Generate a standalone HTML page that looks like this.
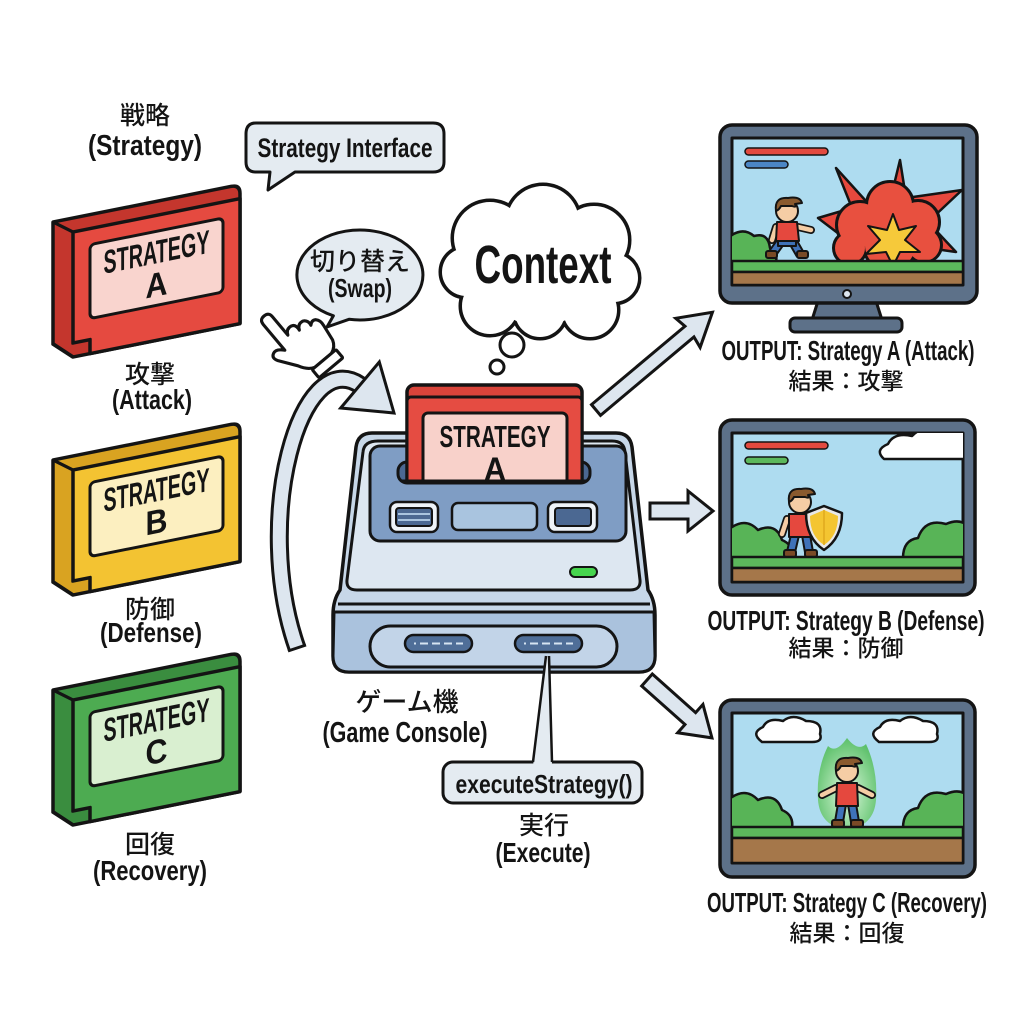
<!DOCTYPE html>
<html><head><meta charset="utf-8"><style>
html,body{margin:0;padding:0;background:#fff;}
svg{display:block;}
text{font-family:"Liberation Sans","Noto Sans CJK JP",sans-serif;fill:#141414;}
.b{font-weight:bold;}
.j{font-weight:500;}
</style></head><body>
<svg width="1024" height="1024" viewBox="0 0 1024 1024" xmlns="http://www.w3.org/2000/svg">
<defs>
<clipPath id="s1"><rect x="732" y="138" width="231" height="147"/></clipPath>
<clipPath id="s2"><rect x="732" y="433" width="231" height="149"/></clipPath>
<clipPath id="s3"><rect x="732" y="713" width="231" height="150"/></clipPath>
<clipPath id="cc"><rect x="380" y="370" width="230" height="111"/></clipPath>
<radialGradient id="aura" cx="0.5" cy="0.6" r="0.6">
<stop offset="0" stop-color="#e9f8ea"/><stop offset="0.5" stop-color="#9bdca2"/><stop offset="1" stop-color="#5cc06a"/>
</radialGradient>
</defs>
<rect width="1024" height="1024" fill="#fff"/>

<!-- Left labels -->
<text x="145" y="124" text-anchor="middle" class="j" font-size="25">戦略</text>
<text x="145" y="155" text-anchor="middle" class="b" font-size="29" textLength="114" lengthAdjust="spacingAndGlyphs">(Strategy)</text>

<!-- Cartridge A -->
<g transform="translate(73,232) skewY(-11.3)" stroke="#141414" stroke-linejoin="round">
 <path d="M-20 -14 L158 -14 Q167 -14 167 -5 L167 125 L0 125 L-20 108 Z" fill="#c4362d" stroke-width="3.5"/>
 <path d="M-20 -14 L0 0" fill="none" stroke-width="3"/>
 <path d="M0 0 L167 0 L167 125 L17 125 L17 111 L0 111 Z" fill="#e54a40" stroke-width="3.5"/>
 <rect x="17" y="16" width="133" height="74" rx="5" fill="#f9d4ce" stroke-width="3"/>
 <text x="83.5" y="48" text-anchor="middle" class="b" font-size="33" stroke="none" textLength="106" lengthAdjust="spacingAndGlyphs">STRATEGY</text>
 <text x="83.5" y="81" text-anchor="middle" class="b" font-size="34" stroke="none" textLength="22" lengthAdjust="spacingAndGlyphs">A</text>
</g>
<text x="150" y="383" text-anchor="middle" class="j" font-size="25">攻撃</text>
<text x="152" y="409" text-anchor="middle" class="b" font-size="28" textLength="80" lengthAdjust="spacingAndGlyphs">(Attack)</text>

<!-- Cartridge B -->
<g transform="translate(73,470) skewY(-11.3)" stroke="#141414" stroke-linejoin="round">
 <path d="M-20 -14 L158 -14 Q167 -14 167 -5 L167 125 L0 125 L-20 108 Z" fill="#d9a321" stroke-width="3.5"/>
 <path d="M-20 -14 L0 0" fill="none" stroke-width="3"/>
 <path d="M0 0 L167 0 L167 125 L17 125 L17 111 L0 111 Z" fill="#f3c332" stroke-width="3.5"/>
 <rect x="17" y="16" width="133" height="74" rx="5" fill="#fcefc0" stroke-width="3"/>
 <text x="83.5" y="48" text-anchor="middle" class="b" font-size="33" stroke="none" textLength="106" lengthAdjust="spacingAndGlyphs">STRATEGY</text>
 <text x="83.5" y="80" text-anchor="middle" class="b" font-size="34" stroke="none" textLength="22" lengthAdjust="spacingAndGlyphs">B</text>
</g>
<text x="150" y="618" text-anchor="middle" class="j" font-size="25">防御</text>
<text x="151" y="642" text-anchor="middle" class="b" font-size="28" textLength="102" lengthAdjust="spacingAndGlyphs">(Defense)</text>

<!-- Cartridge C -->
<g transform="translate(73,700) skewY(-11.3)" stroke="#141414" stroke-linejoin="round">
 <path d="M-20 -14 L158 -14 Q167 -14 167 -5 L167 125 L0 125 L-20 108 Z" fill="#3a8d3f" stroke-width="3.5"/>
 <path d="M-20 -14 L0 0" fill="none" stroke-width="3"/>
 <path d="M0 0 L167 0 L167 125 L17 125 L17 111 L0 111 Z" fill="#4dab51" stroke-width="3.5"/>
 <rect x="17" y="16" width="133" height="74" rx="5" fill="#d9efd0" stroke-width="3"/>
 <text x="83.5" y="48" text-anchor="middle" class="b" font-size="33" stroke="none" textLength="106" lengthAdjust="spacingAndGlyphs">STRATEGY</text>
 <text x="83.5" y="80" text-anchor="middle" class="b" font-size="34" stroke="none" textLength="22" lengthAdjust="spacingAndGlyphs">C</text>
</g>
<text x="150" y="853" text-anchor="middle" class="j" font-size="25">回復</text>
<text x="150" y="880" text-anchor="middle" class="b" font-size="28" textLength="114" lengthAdjust="spacingAndGlyphs">(Recovery)</text>

<!-- Strategy Interface bubble -->
<path d="M256 123 L433 123 Q444 123 444 134 L444 162 Q444 172 433 172 L295 172 L268 190 L270 172 L256 172 Q246 172 246 162 L246 134 Q246 123 256 123 Z" fill="#e4ebf1" stroke="#141414" stroke-width="3" stroke-linejoin="round"/>
<text x="345" y="157" text-anchor="middle" class="b" font-size="27" textLength="175" lengthAdjust="spacingAndGlyphs">Strategy Interface</text>

<!-- Swap bubble -->
<path d="M349 319.3 A63 45 0 1 0 333.4 315.8 L327 327 Z" fill="#e4ebf1" stroke="#141414" stroke-width="3" stroke-linejoin="round"/>
<text x="360" y="270" text-anchor="middle" class="j" font-size="25">切り替え</text>
<text x="360" y="297" text-anchor="middle" class="b" font-size="26" textLength="64" lengthAdjust="spacingAndGlyphs">(Swap)</text>

<!-- Curved arrow -->
<path d="M297 648 C252 520 300 345 360 385" fill="none" stroke="#141414" stroke-width="19"/>
<path d="M297 648 C252 520 300 345 360 385" fill="none" stroke="#dde6ef" stroke-width="13"/>
<path d="M288 651 L306 645" stroke="#141414" stroke-width="3"/>
<polygon points="340.7,408 379.3,362 394,413" fill="#dde6ef" stroke="#141414" stroke-width="3" stroke-linejoin="miter"/>

<!-- Hand -->
<g transform="translate(264,316) rotate(-40) scale(1.2)" stroke="#141414" stroke-width="2.6" stroke-linejoin="round" fill="#fff">
 <path d="M-5 5 Q-5 0 0 0 Q5 0 5 5 L5 25 Q7 20 12 21 Q16 22 15 28 Q17 23 22 24 Q26 26 25 31 Q28 28 31 30 Q34 33 33 38 L31 52 Q29 58 23 60 L5 60 Q-1 58 -5 50 L-15 36 Q-18 31 -14 29 Q-10 27 -5 33 Z"/>
 <rect x="2" y="60" width="26" height="9" rx="1"/>
</g>

<!-- Context cloud -->
<g stroke="#141414" stroke-width="7" fill="#141414">
 <circle cx="490" cy="238" r="36"/><circle cx="543" cy="222" r="36"/><circle cx="594" cy="240" r="34"/>
 <circle cx="614" cy="278" r="24"/><circle cx="590" cy="310" r="27"/><circle cx="540" cy="312" r="25"/>
 <circle cx="490" cy="306" r="28"/><circle cx="466" cy="272" r="24"/>
</g>
<g fill="#fff">
 <circle cx="490" cy="238" r="36"/><circle cx="543" cy="222" r="36"/><circle cx="594" cy="240" r="34"/>
 <circle cx="614" cy="278" r="24"/><circle cx="590" cy="310" r="27"/><circle cx="540" cy="312" r="25"/>
 <circle cx="490" cy="306" r="28"/><circle cx="466" cy="272" r="24"/><circle cx="540" cy="268" r="58"/>
</g>
<text x="543" y="283" text-anchor="middle" class="b" font-size="54" textLength="137" lengthAdjust="spacingAndGlyphs">Context</text>
<circle cx="512" cy="345" r="12" fill="#fff" stroke="#141414" stroke-width="3"/>
<circle cx="497" cy="367" r="7" fill="#fff" stroke="#141414" stroke-width="3"/>

<!-- Console -->
<g stroke="#141414" stroke-linejoin="round">
 <path d="M372 433 L616 433 Q630 433 632 447 L648 590 Q655 600 655 615 L655 656 Q655 672 639 672 L349 672 Q333 672 333 656 L333 615 Q333 600 340 590 L356 447 Q358 433 372 433 Z" fill="#c7d7e8" stroke-width="3.5"/>
 <path d="M378 441 L612 441 Q624 441 625 452 L640 580 Q641 590 630 590 L357 590 Q346 590 347 580 L363 452 Q364 441 378 441 Z" fill="#dde7f1" stroke-width="3"/>
 <path d="M338 604 L650 604" fill="none" stroke-width="3"/>
 <path d="M334 612 L654 612 L655 656 Q655 672 639 672 L349 672 Q333 672 333 656 Z" fill="#aac2dd" stroke-width="3"/>
 <rect x="370" y="626" width="247" height="41" rx="20.5" fill="#c2d4e8" stroke-width="3"/>
 <rect x="405" y="635" width="67" height="17" rx="8.5" fill="#4f6e98" stroke-width="2.5"/>
 <rect x="515" y="635" width="67" height="17" rx="8.5" fill="#4f6e98" stroke-width="2.5"/>
 <rect x="370" y="446" width="256" height="95" rx="10" fill="#7f9dc4" stroke-width="3"/>
 <rect x="398" y="462" width="192" height="21" rx="9" fill="#4b6892" stroke-width="3"/>
 <rect x="390" y="502" width="48" height="30" rx="7" fill="#eef3f8" stroke-width="2.5"/>
 <rect x="396" y="508" width="36" height="18" rx="3" fill="#4b6892" stroke-width="2"/>
 <rect x="452" y="503" width="85" height="27" rx="6" fill="#a9c4df" stroke-width="2.5"/>
 <rect x="548" y="502" width="49" height="30" rx="7" fill="#eef3f8" stroke-width="2.5"/>
 <rect x="555" y="508" width="36" height="18" rx="3" fill="#4b6892" stroke-width="2"/>
 <rect x="570" y="567" width="27" height="10" rx="5" fill="#46d54e" stroke-width="2"/>
</g>
<path d="M398 514 L430 514 M398 520 L430 520" stroke="#a9c4df" stroke-width="2"/>
<path d="M414 643.5 L463 643.5 M524 643.5 L573 643.5" stroke="#d6e4f2" stroke-width="2" stroke-dasharray="2 4 8 4 8 4 8 4 8 4 2"/>
<g clip-path="url(#cc)" stroke="#141414" stroke-linejoin="round">
 <rect x="407" y="385" width="175" height="110" rx="7" fill="#d8443a" stroke-width="3.5"/>
 <rect x="407" y="397" width="175" height="100" rx="4" fill="#e54c42" stroke-width="3"/>
 <rect x="423" y="413" width="144" height="90" rx="5" fill="#f8d1ca" stroke-width="3"/>
 <text x="495" y="447" text-anchor="middle" class="b" font-size="31" stroke="none" textLength="111" lengthAdjust="spacingAndGlyphs">STRATEGY</text>
 <text x="495" y="480" text-anchor="middle" class="b" font-size="32" stroke="none" textLength="22" lengthAdjust="spacingAndGlyphs">A</text>
</g>
<path d="M402 481 L587 481" stroke="#141414" stroke-width="3"/>

<text x="407" y="711" text-anchor="middle" class="j" font-size="26">ゲーム機</text>
<text x="405" y="742" text-anchor="middle" class="b" font-size="29" textLength="165" lengthAdjust="spacingAndGlyphs">(Game Console)</text>

<!-- executeStrategy -->
<rect x="443" y="762" width="199" height="41" rx="10" fill="#e4ebf1" stroke="#141414" stroke-width="3"/>
<polygon points="546,656 549,656 552,766 533,766" fill="#e4ebf1"/>
<path d="M546 656 L533 762 M549 656 L552 762" stroke="#141414" stroke-width="2.5" fill="none"/>
<text x="544" y="793" text-anchor="middle" class="b" font-size="26" textLength="177" lengthAdjust="spacingAndGlyphs">executeStrategy()</text>
<text x="544" y="834" text-anchor="middle" class="j" font-size="25">実行</text>
<text x="543" y="862" text-anchor="middle" class="b" font-size="28" textLength="95" lengthAdjust="spacingAndGlyphs">(Execute)</text>

<!-- Output arrows -->
<g fill="#dde6ef" stroke="#141414" stroke-width="3" stroke-linejoin="miter">
 <polygon transform="translate(596,410) rotate(-40)" points="0,-7 122,-7 120,-19 152,0 120,19 122,7 0,7"/>
 <polygon transform="translate(650,511)" points="0,-8 38,-8 38,-20 63,0 38,20 38,8 0,8"/>
 <polygon transform="translate(647,680) rotate(41.7)" points="0,-8 58,-8 58,-19 87,0 58,19 58,8 0,8"/>
</g>

<!-- Monitor 1 -->
<g stroke="#141414" stroke-linejoin="round">
 <path d="M818 301 L876 301 L882 320 L812 320 Z" fill="#5d7189" stroke-width="3"/>
 <rect x="790" y="318" width="112" height="14" rx="5" fill="#5d7189" stroke-width="3"/>
 <rect x="720" y="125" width="257" height="178" rx="12" fill="#5d7189" stroke-width="3.5"/>
 <rect x="732" y="138" width="231" height="147" fill="#aedcf0" stroke-width="3"/>
 <circle cx="847" cy="294" r="4" fill="#dde6ef" stroke-width="2"/>
</g>
<g clip-path="url(#s1)" stroke="#141414" stroke-linejoin="round" stroke-width="2.5">
 <rect x="745" y="148" width="83" height="7" rx="3.5" fill="#e24a3f" stroke-width="1.5"/>
 <rect x="745" y="161" width="43" height="7" rx="3.5" fill="#4b86c5" stroke-width="1.5"/>
 <path d="M728 262 L728 238 Q742 226 754 236 Q768 232 770 248 Q778 252 776 262 Z" fill="#58b457"/>
 <polygon points="885,222 900,160 906,198 962,190 928,222 956,252 914,246 885,272 860,250 818,218 852,208 836,168" fill="#e6483d"/>
 <g fill="#e8503f" stroke-width="6"><circle cx="860" cy="225" r="22"/><circle cx="890" cy="205" r="22"/><circle cx="918" cy="222" r="20"/><circle cx="924" cy="245" r="16"/><circle cx="850" cy="248" r="15"/><circle cx="890" cy="245" r="25"/></g>
 <g fill="#e8503f" stroke="none"><circle cx="860" cy="225" r="22"/><circle cx="890" cy="205" r="22"/><circle cx="918" cy="222" r="20"/><circle cx="924" cy="245" r="16"/><circle cx="850" cy="248" r="15"/><circle cx="890" cy="245" r="25"/></g>
 <polygon points="893,214 899,230 916,226 905,240 920,252 900,252 893,266 886,252 866,254 880,240 868,226 887,230" fill="#f6c93a" stroke-width="2"/>
 <path d="M782 240 L772 254 M792 240 L800 254" stroke="#141414" stroke-width="10" stroke-linecap="round"/>
 <path d="M782 240 L772 254 M792 240 L800 254" stroke="#3f72b8" stroke-width="6" stroke-linecap="round"/>
 <rect x="766" y="251" width="11" height="7" rx="2" fill="#7a4a26" stroke-width="2"/>
 <rect x="797" y="251" width="11" height="7" rx="2" fill="#7a4a26" stroke-width="2"/>
 <path d="M778 240 L796 240 L796 246 L778 246 Z" fill="#3f72b8" stroke-width="2"/>
 <path d="M798 227 L811 230 M776 227 L772 240" stroke="#141414" stroke-width="8" stroke-linecap="round"/>
 <path d="M798 227 L811 230 M776 227 L772 240" stroke="#f5cda5" stroke-width="4.5" stroke-linecap="round"/>
 <path d="M777 222 L797 222 L799 241 L776 241 Z" fill="#e5483e" stroke-width="2"/>
 <circle cx="787" cy="211" r="11" fill="#f5cda5" stroke-width="2"/>
 <path d="M776 211 Q774 197 788 198 Q800 196 802 203 L795 204 Q797 208 792 206 L781 206 Q779 210 776 211 Z" fill="#8a5a2e" stroke-width="2"/>
 <rect x="732" y="261" width="231" height="11" fill="#5cb85c" stroke-width="2.5"/>
 <rect x="732" y="272" width="231" height="13" fill="#a5774a" stroke-width="2.5"/>
</g>
<text x="848" y="360" text-anchor="middle" class="b" font-size="28" textLength="253" lengthAdjust="spacingAndGlyphs">OUTPUT: Strategy A (Attack)</text>
<text x="846" y="389" text-anchor="middle" class="j" font-size="23">結果：攻撃</text>

<!-- Monitor 2 -->
<g stroke="#141414" stroke-linejoin="round">
 <rect x="720" y="420" width="255" height="175" rx="12" fill="#5d7189" stroke-width="3.5"/>
 <rect x="732" y="433" width="231" height="149" fill="#aedcf0" stroke-width="3"/>
</g>
<g clip-path="url(#s2)" stroke="#141414" stroke-linejoin="round" stroke-width="2.5">
 <rect x="745" y="442" width="83" height="7" rx="3.5" fill="#e24a3f" stroke-width="1.5"/>
 <rect x="745" y="457" width="43" height="7" rx="3.5" fill="#5cb85c" stroke-width="1.5"/>
 <path d="M884 459 Q874 450 888 444 Q894 432 912 436 Q922 425 942 430 Q958 424 968 434 L968 459 Z" fill="#fff"/>
 <path d="M728 558 L728 530 Q745 516 758 530 Q776 522 782 540 Q794 545 792 558 Z" fill="#58b457"/>
 <path d="M903 558 Q903 540 918 538 Q925 518 946 524 Q960 518 968 526 L968 558 Z" fill="#58b457"/>
 <path d="M795 535 L791 552 M806 535 L809 552" stroke="#141414" stroke-width="10" stroke-linecap="round"/>
 <path d="M795 535 L791 552 M806 535 L809 552" stroke="#3f72b8" stroke-width="6" stroke-linecap="round"/>
 <rect x="784" y="550" width="12" height="7" rx="2" fill="#7a4a26" stroke-width="2"/>
 <rect x="805" y="550" width="12" height="7" rx="2" fill="#7a4a26" stroke-width="2"/>
 <path d="M787 519 L782 534" stroke="#141414" stroke-width="8" stroke-linecap="round"/>
 <path d="M787 519 L782 534" stroke="#f5cda5" stroke-width="4.5" stroke-linecap="round"/>
 <path d="M789 514 L810 514 L811 537 L789 537 Z" fill="#e5483e" stroke-width="2"/>
 <circle cx="800" cy="502" r="11" fill="#f5cda5" stroke-width="2"/>
 <path d="M789 502 Q787 488 801 489 Q813 487 815 494 L808 495 Q810 499 805 497 L794 497 Q792 501 789 502 Z" fill="#8a5a2e" stroke-width="2"/>
 <path d="M824 506 L842 513 Q842 538 824 550 Q806 538 806 513 Z" fill="#e8e8e8" stroke-width="2.5"/>
 <path d="M824 510 L838 516 Q838 536 824 545 Q810 536 810 516 Z" fill="#f4c531" stroke="none"/>
 <path d="M824 510 L824 545" stroke="#e0a81e" stroke-width="1.5"/>
 <rect x="732" y="557" width="231" height="11" fill="#5cb85c" stroke-width="2.5"/>
 <rect x="732" y="568" width="231" height="14" fill="#a5774a" stroke-width="2.5"/>
</g>
<text x="846" y="630" text-anchor="middle" class="b" font-size="28" textLength="277" lengthAdjust="spacingAndGlyphs">OUTPUT: Strategy B (Defense)</text>
<text x="846" y="656" text-anchor="middle" class="j" font-size="23">結果：防御</text>

<!-- Monitor 3 -->
<g stroke="#141414" stroke-linejoin="round">
 <rect x="720" y="700" width="255" height="177" rx="12" fill="#5d7189" stroke-width="3.5"/>
 <rect x="732" y="713" width="231" height="150" fill="#aedcf0" stroke-width="3"/>
</g>
<g clip-path="url(#s3)" stroke="#141414" stroke-linejoin="round" stroke-width="2.5">
 <path d="M762 742 Q750 733 763 727 Q768 717 783 721 Q793 713 806 721 Q823 721 820 734 Q823 742 812 742 Z" fill="#fff"/>
 <path d="M879 742 Q867 733 880 727 Q885 717 900 721 Q910 713 923 721 Q940 721 937 734 Q940 742 929 742 Z" fill="#fff"/>
 <path d="M728 828 L728 800 Q745 786 758 800 Q776 792 782 810 Q794 815 792 828 Z" fill="#58b457"/>
 <path d="M903 828 Q903 810 918 808 Q925 788 946 794 Q960 788 968 796 L968 828 Z" fill="#58b457"/>
 <path d="M847 738 Q858 752 866 744 Q878 770 876 800 Q874 826 847 830 Q820 826 818 800 Q816 770 828 746 Q836 754 847 738 Z" fill="url(#aura)" stroke="none"/>
 <path d="M842 804 L839 822 M852 804 L855 822" stroke="#141414" stroke-width="10" stroke-linecap="round"/>
 <path d="M842 804 L839 822 M852 804 L855 822" stroke="#3f72b8" stroke-width="6" stroke-linecap="round"/>
 <rect x="832" y="820" width="12" height="7" rx="2" fill="#7a4a26" stroke-width="2"/>
 <rect x="851" y="820" width="12" height="7" rx="2" fill="#7a4a26" stroke-width="2"/>
 <path d="M836 788 L822 795 M858 788 L872 795" stroke="#141414" stroke-width="8" stroke-linecap="round"/>
 <path d="M836 788 L822 795 M858 788 L872 795" stroke="#f5cda5" stroke-width="4.5" stroke-linecap="round"/>
 <path d="M837 783 L857 783 L858 806 L836 806 Z" fill="#e5483e" stroke-width="2"/>
 <circle cx="847" cy="771" r="11" fill="#f5cda5" stroke-width="2"/>
 <path d="M836 771 Q834 757 848 758 Q860 756 862 763 L855 764 Q857 768 852 766 L841 766 Q839 770 836 771 Z" fill="#8a5a2e" stroke-width="2"/>
 <rect x="732" y="827" width="231" height="11" fill="#5cb85c" stroke-width="2.5"/>
 <rect x="732" y="838" width="231" height="25" fill="#a5774a" stroke-width="2.5"/>
</g>
<text x="847" y="912" text-anchor="middle" class="b" font-size="28" textLength="280" lengthAdjust="spacingAndGlyphs">OUTPUT: Strategy C (Recovery)</text>
<text x="847" y="941" text-anchor="middle" class="j" font-size="23">結果：回復</text>
</svg>
</body></html>
